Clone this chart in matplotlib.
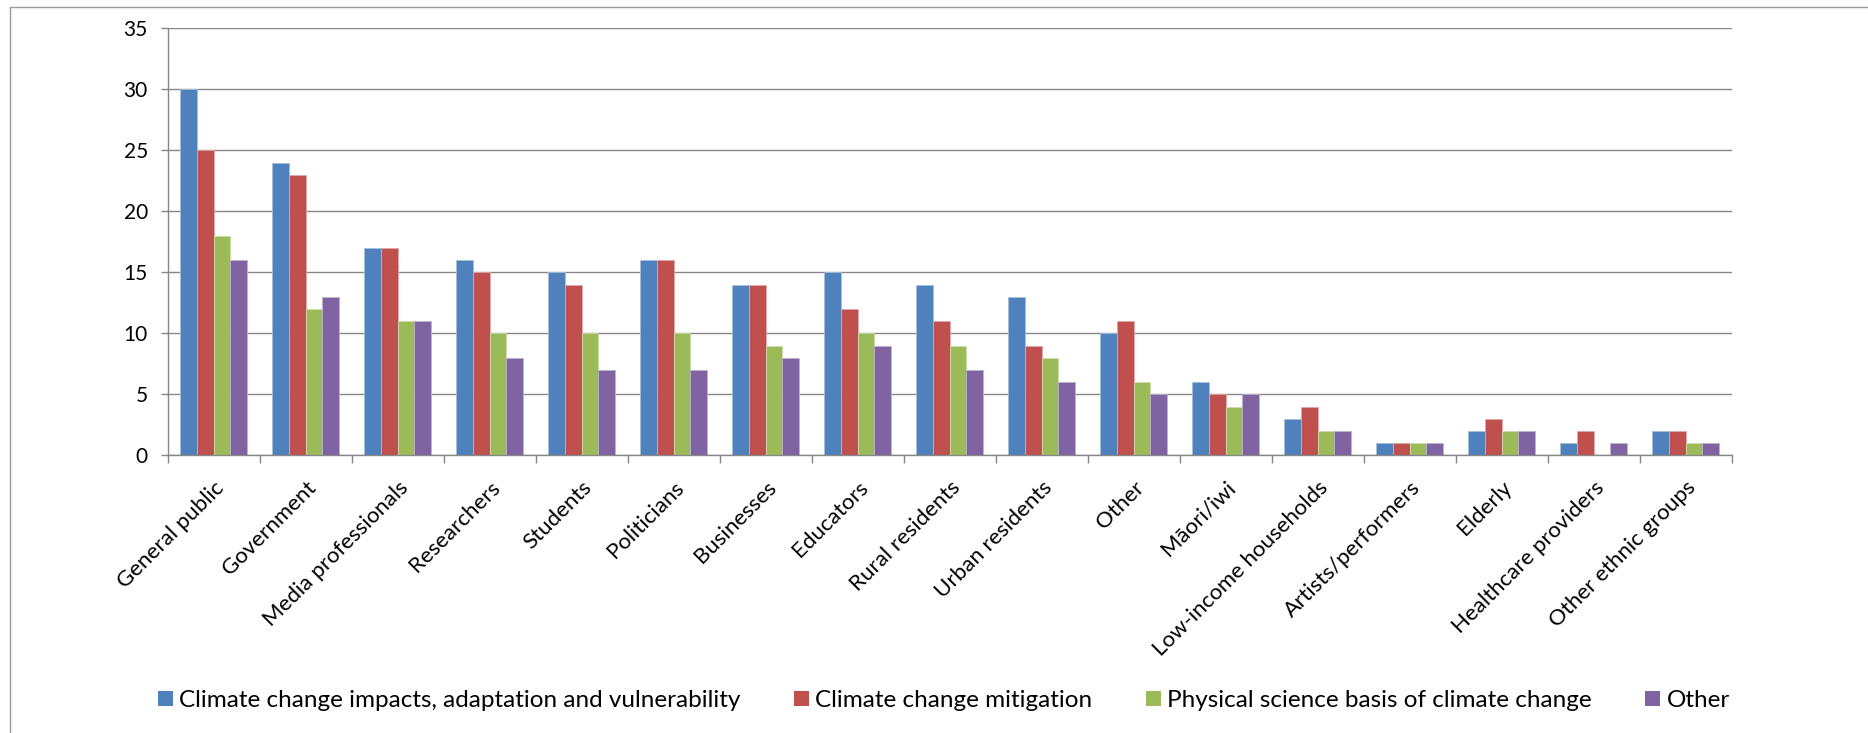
import matplotlib
matplotlib.use("Agg")
import matplotlib.pyplot as plt
from matplotlib.patches import Rectangle
from matplotlib.lines import Line2D
import numpy as np

plt.rcParams['font.family'] = ['Lato', 'DejaVu Sans']

categories = [
    "General public", "Government", "Media professionals", "Researchers",
    "Students", "Politicians", "Businesses", "Educators", "Rural residents",
    "Urban residents", "Other", "Māori/iwi", "Low-income households",
    "Artists/performers", "Elderly", "Healthcare providers", "Other ethnic groups",
]
series_names = [
    "Climate change impacts, adaptation and vulnerability",
    "Climate change mitigation",
    "Physical science basis of climate change",
    "Other",
]
impacts =    [30, 24, 17, 16, 15, 16, 14, 15, 14, 13, 10, 6, 3, 1, 2, 1, 2]
mitigation = [25, 23, 17, 15, 14, 16, 14, 12, 11, 9, 11, 5, 4, 1, 3, 2, 2]
physical =   [18, 12, 11, 10, 10, 10, 9, 10, 9, 8, 6, 4, 2, 1, 2, 0, 1]
other =      [16, 13, 11, 8, 7, 7, 8, 9, 7, 6, 5, 5, 2, 1, 2, 1, 1]
y_ticks = [0, 5, 10, 15, 20, 25, 30, 35]

colors = ["#4F81BD", "#C0504D", "#9BBB59", "#8064A2"]
edge_colors = ["#A7C0DE", "#DFA8A6", "#CDDDAC", "#BFB1D0"]
grid_color = "#878787"

W, H = 1868, 733
fig = plt.figure(figsize=(W / 100, H / 100), dpi=100)
ax = fig.add_axes([167.7 / W, 1 - 455.3 / H, (1731.7 - 167.7) / W, (455.3 - 28.3) / H])

x = np.arange(len(categories))
bw = 0.1825
data = [impacts, mitigation, physical, other]
handles = []
for i, (vals, name) in enumerate(zip(data, series_names)):
    ax.bar(x + (i - 1.5) * bw, vals, width=bw, color=colors[i],
           edgecolor=edge_colors[i], linewidth=0.6, zorder=3)
    handles.append(Rectangle((0, 0), 1, 1, facecolor=colors[i], edgecolor='none'))

ax.set_xlim(-0.5, len(categories) - 0.5)
ax.set_ylim(0, 35)
ax.set_yticks(y_ticks)
ax.set_yticklabels([str(v) for v in y_ticks])
ax.yaxis.grid(True, color=grid_color, linewidth=1.0, zorder=0)
ax.set_axisbelow(True)

for s in ("top", "right"):
    ax.spines[s].set_visible(False)
for s in ("left", "bottom"):
    ax.spines[s].set_color(grid_color)
    ax.spines[s].set_linewidth(1.0)
    ax.spines[s].set_zorder(4)

ax.tick_params(axis='y', length=5.3, width=1.0, color=grid_color, pad=9,
               labelsize=15, labelcolor="black")

# category labels at the centres, tick marks at the group boundaries
ax.set_xticks(x)
ax.set_xticklabels(categories, rotation=45, ha='right', va='top',
                   rotation_mode='anchor')
ax.tick_params(axis='x', which='major', length=0, pad=16, labelsize=16,
               labelcolor="black")
ax.set_xticks(np.arange(-0.5, len(categories)), minor=True)
ax.tick_params(axis='x', which='minor', length=5.8, width=1.0, color=grid_color)

fig.legend(handles, series_names, loc='center', ncol=4,
           bbox_to_anchor=(944 / W, 1 - 700.5 / H), frameon=False,
           fontsize=17.5, handlelength=0.62, handleheight=0.62,
           handletextpad=0.25, columnspacing=2.2, borderaxespad=0, borderpad=0)

# outer chart border
fig.add_artist(Line2D([10 / W, 10 / W, 1.0], [0.0, 1 - 7 / H, 1 - 7 / H],
                      transform=fig.transFigure, color="#9A9A9A", linewidth=1.0))

fig.savefig("out.png", dpi=100)
